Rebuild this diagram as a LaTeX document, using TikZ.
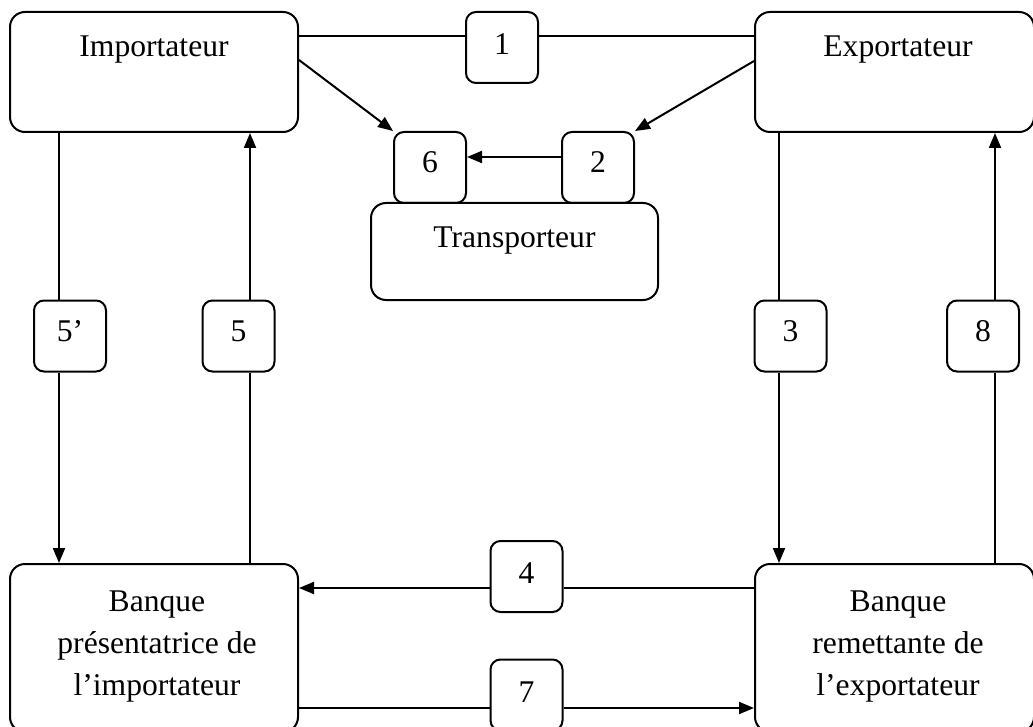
\documentclass[tikz,border=0pt]{standalone}
\usepackage{fontspec}
\setmainfont{Liberation Serif}
\usetikzlibrary{arrows.meta}
\begin{document}
\begin{tikzpicture}[x=0.5pt,y=-0.5pt,
  box/.style={draw, line width=1pt, rounded corners=7.5pt, inner sep=0pt},
  sbox/.style={draw, line width=1pt, rounded corners=5pt, inner sep=0pt, minimum width=36pt, minimum height=35.5pt},
  lbl/.style={anchor=base, inner sep=0pt, font=\fontsize{15.8}{20.8}\selectfont},
  conn/.style={line width=1pt},
  arr/.style={conn, -{Triangle[length=7.5pt,width=6pt]}}]
\useasboundingbox (0,0) rectangle (1033,727);
\clip (0,0) rectangle (1033,727);
% boxes
\node[box, minimum width=144pt, minimum height=60pt] (imp) at (154,72) {};
\node[box, minimum width=139.5pt, minimum height=60pt] (exp) at (894.5,72) {};
\node[sbox] (b1) at (502,47.5) {};
\node[box, minimum width=143.5pt, minimum height=48.5pt] (tr) at (514.5,251.5) {};
\node[sbox] (b6) at (430,167.5) {};
\node[sbox] (b2) at (598,167.5) {};
\node[sbox] (b5p) at (70,336) {};
\node[sbox] (b5) at (238.5,336) {};
\node[sbox] (b3) at (790.5,336) {};
\node[sbox] (b8) at (983,336) {};
\node[box, minimum width=144pt, minimum height=84pt] (bp) at (154,648) {};
\node[box, minimum width=139.5pt, minimum height=84pt] (br) at (894.5,648) {};
\node[sbox] (b4) at (526.5,576.5) {};
\node[sbox] (b7) at (526.5,695) {};
% texts
\node[lbl] (timp) at (154,57) {Importateur};
\node[lbl] (texp) at (898,57) {Exportateur};
\node[lbl] (t1) at (502,55) {1};
\node[lbl] (t6) at (430,173) {6};
\node[lbl] (t2) at (598,173) {2};
\node[lbl] (ttr) at (514.5,248) {Transporteur};
\node[lbl] (t5p) at (70,342) {5’};
\node[lbl] (t5) at (238.5,342) {5};
\node[lbl] (t3) at (790.5,342) {3};
\node[lbl] (t8) at (983,342) {8};
\node[lbl] (t4) at (526.5,583) {4};
\node[lbl] (t7) at (526.5,702) {7};
\node[lbl, anchor=center, align=center] (tbp) at (157,646.5) {Banque\\présentatrice de\\l’importateur};
\node[lbl, anchor=center, align=center] (tbr) at (898,646.5) {Banque\\remettante de\\l’exportateur};
% connectors
\draw[conn] (imp.east |- 0,36) -- (b1.west |- 0,36);
\draw[conn] (b1.east |- 0,36) -- (exp.west |- 0,36);
\draw[arr] (imp.east |- 0,60) -- (b6.north west);
\draw[arr] (exp.west |- 0,61) -- (b2.north east);
\draw[arr] (b2.west |- 0,157) -- (b6.east |- 0,157);
\draw[conn] (imp.south -| 59,0) -- (b5p.north -| 59,0);
\draw[arr] (b5p.south -| 59,0) -- (bp.north -| 59,0);
\draw[conn] (bp.north -| 250,0) -- (b5.south -| 250,0);
\draw[arr] (b5.north -| 250,0) -- (imp.south -| 250,0);
\draw[conn] (exp.south -| 779,0) -- (b3.north -| 779,0);
\draw[arr] (b3.south -| 779,0) -- (br.north -| 779,0);
\draw[conn] (br.north -| 995,0) -- (b8.south -| 995,0);
\draw[arr] (b8.north -| 995,0) -- (exp.south -| 995,0);
\draw[conn] (br.west |- 0,588) -- (b4.east |- 0,588);
\draw[arr] (b4.west |- 0,588) -- (bp.east |- 0,588);
\draw[conn] (bp.east |- 0,708) -- (b7.west |- 0,708);
\draw[arr] (b7.east |- 0,708) -- (br.west |- 0,708);
\end{tikzpicture}
\end{document}
